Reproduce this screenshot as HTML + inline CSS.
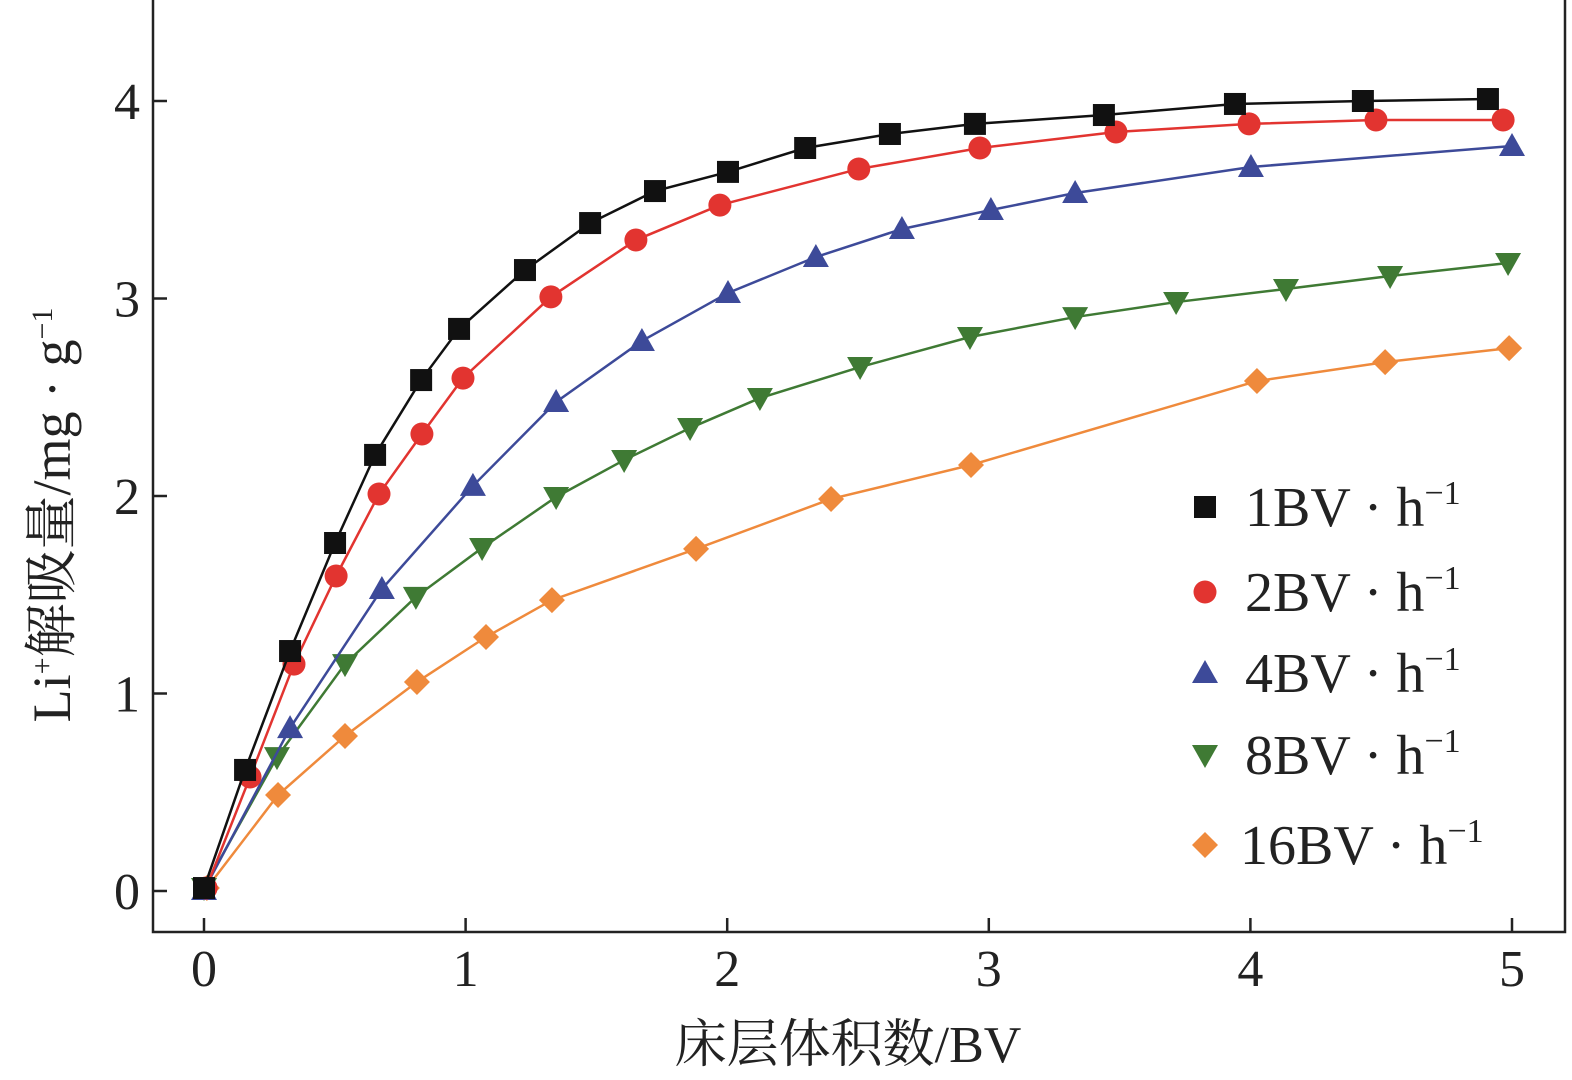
<!DOCTYPE html>
<html><head><meta charset="utf-8"><style>
html,body{margin:0;padding:0;background:#fff;width:1572px;height:1080px;overflow:hidden}
text{font-family:"Liberation Serif","Noto Serif CJK SC",serif;fill:#222}
</style></head><body>
<svg id="chart" width="1572" height="1080" xmlns="http://www.w3.org/2000/svg">
<g id="plot"></g>
</svg>
<script>
const categories=["1BV·h-1","2BV·h-1","4BV·h-1","8BV·h-1","16BV·h-1"];
const x1=[0,0.157,0.329,0.501,0.654,0.83,0.975,1.227,1.476,1.724,2.003,2.298,2.622,2.947,3.44,3.941,4.43,4.908];
const y1=[0.015,0.613,1.215,1.762,2.208,2.587,2.846,3.144,3.382,3.544,3.641,3.762,3.833,3.884,3.929,3.985,4.0,4.01];
const x2=[0.008,0.176,0.344,0.505,0.669,0.833,0.99,1.326,1.651,1.972,2.503,2.966,3.486,3.995,4.48,4.966];
const y2=[0.015,0.577,1.149,1.595,2.01,2.314,2.597,3.008,3.296,3.473,3.656,3.762,3.843,3.884,3.904,3.904];
const x4=[0,0.329,0.68,1.028,1.346,1.674,2.003,2.339,2.668,3.008,3.33,4.002,5.0];
const y4=[0.005,0.825,1.529,2.051,2.476,2.785,3.028,3.21,3.352,3.448,3.534,3.666,3.772];
const x8=[0,0.279,0.539,0.81,1.063,1.346,1.606,1.858,2.125,2.508,2.928,3.33,3.716,4.136,4.534,4.985];
const y8=[0.015,0.678,1.149,1.489,1.737,1.995,2.182,2.344,2.496,2.653,2.805,2.906,2.982,3.048,3.114,3.18];
const x16=[0.011,0.283,0.539,0.814,1.078,1.33,1.881,2.397,2.932,4.025,4.515,4.989];
const y16=[0.015,0.486,0.785,1.058,1.286,1.473,1.732,1.985,2.157,2.582,2.678,2.749];
const xTicks=[0,1,2,3,4,5];
const yTicks=[0,1,2,3,4];
const NS="http://www.w3.org/2000/svg";
const X=v=>204+v*261.6, Y=v=>891-v*197.5;
const g=document.getElementById('plot');
function mk(tag,attrs,parent){const e=document.createElementNS(NS,tag);for(const k in attrs)e.setAttribute(k,attrs[k]);(parent||g).appendChild(e);return e;}
let ax=mk('path',{d:'M153,0 V932 H1565 V0',fill:'none',stroke:'#222','stroke-width':2.5});


xTicks.forEach(t=>{
 let l=mk('line',{x1:X(t),x2:X(t),y1:932,y2:918,stroke:'#222','stroke-width':2.5});
 
 
 let tx=mk('text',{x:X(t),y:986,'text-anchor':'middle','font-size':52});
 tx.textContent=t;
 
 
});
yTicks.forEach(t=>{
 let l=mk('line',{x1:153,x2:167,y1:Y(t),y2:Y(t),stroke:'#222','stroke-width':2.5});
 
 
 let tx=mk('text',{x:140,y:Y(t)+18,'text-anchor':'end','font-size':52});
 tx.textContent=t;
 
 
});
let xl=mk('text',{x:848,y:1062,'text-anchor':'middle','font-size':52});
xl.textContent='床层体积数/BV';


let yl=mk('text',{x:0,y:0,'text-anchor':'middle','font-size':54,transform:'translate(70,515) rotate(-90)'});
yl.innerHTML='Li<tspan dy="-18" font-size="30">+</tspan><tspan dy="18">解吸量/mg · g</tspan><tspan dy="-18" font-size="30">−1</tspan>';


function marker(type,cx,cy,color,parent){
 if(type==='square')return mk('rect',{x:cx-11,y:cy-11,width:22,height:22,fill:color},parent);
 if(type==='circle')return mk('circle',{cx:cx,cy:cy,r:11.5,fill:color},parent);
 if(type==='up')return mk('path',{d:`M${cx},${cy-13} L${cx+13},${cy+10} L${cx-13},${cy+10}Z`,fill:color},parent);
 if(type==='down')return mk('path',{d:`M${cx},${cy+13} L${cx+13},${cy-10} L${cx-13},${cy-10}Z`,fill:color},parent);
 return mk('path',{d:`M${cx},${cy-13} L${cx+13},${cy} L${cx},${cy+13} L${cx-13},${cy}Z`,fill:color},parent);
}
const series=[[x16,y16,'#ef8a3c','diamond'],[x8,y8,'#3f7a34','down'],[x4,y4,'#3d4a99','up'],[x2,y2,'#e23430','circle'],[x1,y1,'#111','square']];
const legY={'square':507,'circle':592,'up':673,'down':755,'diamond':845};
const legT={'square':'1BV','circle':'2BV','up':'4BV','down':'8BV','diamond':'16BV'};
series.forEach(([xs,ys,c,t])=>{
 const sg=mk('g',{});
 
 
 const ln=mk('polyline',{points:xs.map((v,i)=>X(v)+','+Y(ys[i])).join(' '),fill:'none',stroke:c,'stroke-width':2.5},sg);
 
 
 xs.forEach((v,i)=>{const m=marker(t,X(v),Y(ys[i]),c,sg);
  
  });
 const le=mk('g',{});
 
 
 marker(t,1205,legY[t],c,le);
 const tx=mk('text',{x:t==='diamond'?1240:1245,y:legY[t]+19,'font-size':56},le);
 tx.innerHTML=legT[t]+' · h<tspan dy="-22" font-size="34">−1</tspan>';
});
</script>
</body></html>
